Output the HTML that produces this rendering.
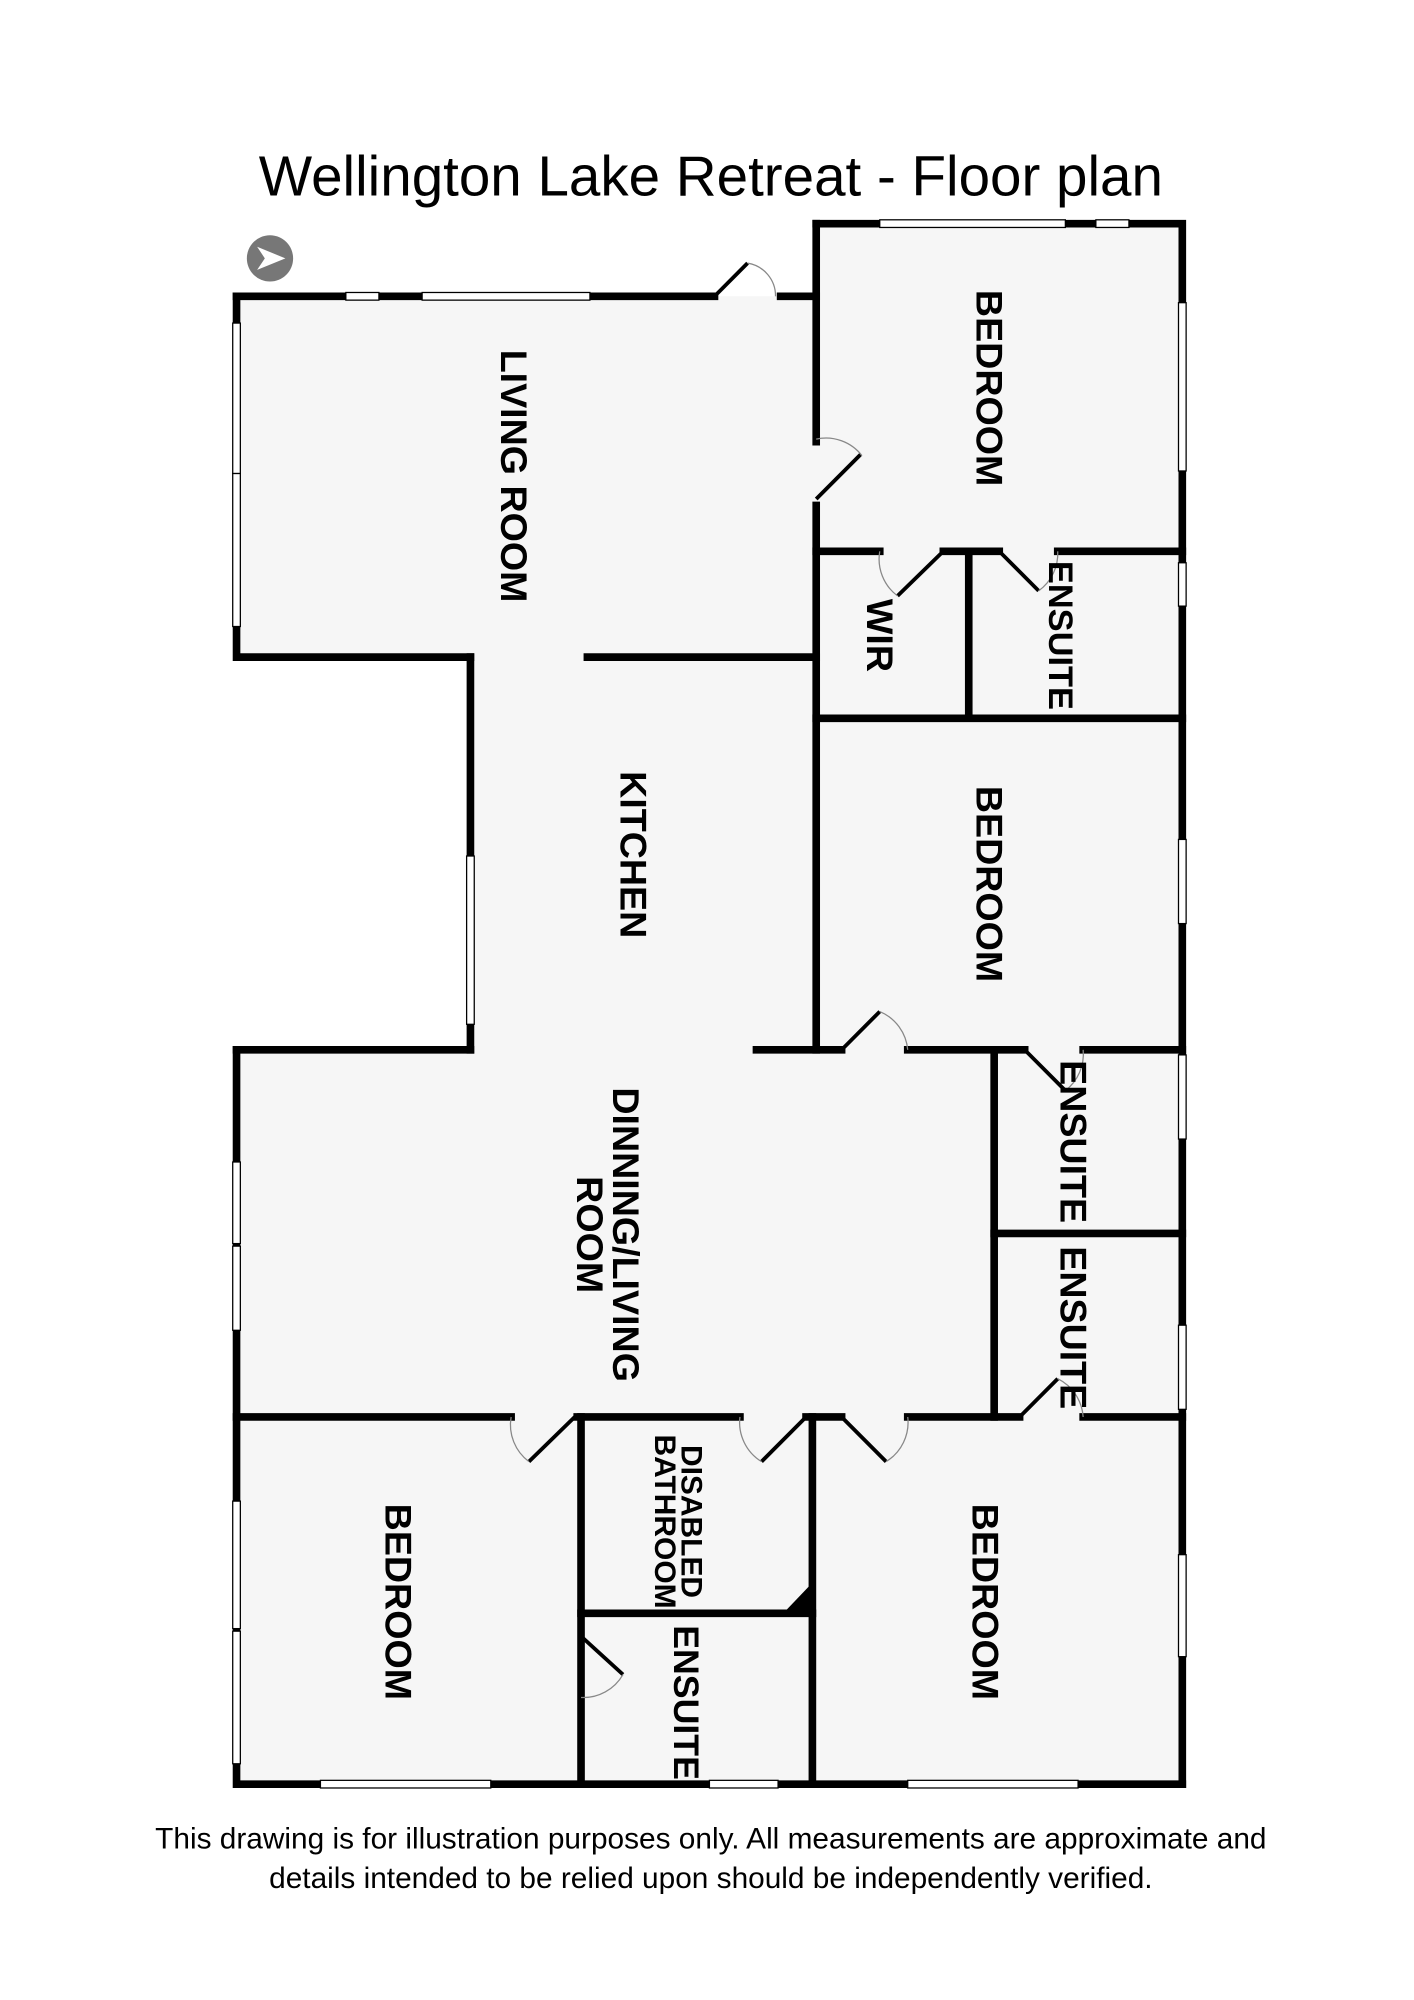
<!DOCTYPE html>
<html><head><meta charset="utf-8"><style>
html,body{margin:0;padding:0;background:#fff;}
svg{display:block;}
text{font-family:"Liberation Sans",sans-serif;}
.lbl{font-weight:bold;font-size:29.5px;fill:#000;}
</style></head><body>
<svg width="1414" height="2000" viewBox="0 0 1100 1556" xmlns="http://www.w3.org/2000/svg">
<rect width="1100" height="1556" fill="#fff"/>
<text x="553" y="152" font-size="44" text-anchor="middle">Wellington Lake Retreat - Floor plan</text>
<circle cx="210" cy="201" r="18" fill="#777"/>
<path d="M200 192 L222 201 L200 210 L206 201 Z" fill="#fff"/>
<g transform="matrix(0.989 0 0 0.9919 2 1.4)">
<path d="M184 231 L640 231 L640 174 L928 174 L928 1398 L184 1398 L184 822 L368 822 L368 514 L184 514 Z" fill="#f6f6f6"/>
<g stroke="#000" stroke-width="6" fill="none" stroke-linecap="square">
<path d="M184 231 L560 231 M612 231 L640 231"/>
<path d="M184 231 L184 514 L368 514"/>
<path d="M460 514 L640 514"/>
<path d="M640 174 L928 174 L928 1398"/>
<path d="M640 174 L640 345 M640 395 L640 822"/>
<path d="M640 431 L690 431 M740 431 L784 431 M830 431 L928 431"/>
<path d="M760 431 L760 560"/>
<path d="M640 562 L928 562"/>
<path d="M368 514 L368 822"/>
<path d="M184 822 L368 822 M593 822 L660 822 M712 822 L804 822 M850 822 L928 822"/>
<path d="M780 822 L780 1110"/>
<path d="M780 966 L928 966"/>
<path d="M184 822 L184 1398 L928 1398"/>
<path d="M184 1110 L400 1110 M452 1110 L580 1110 M632 1110 L660 1110 M712 1110 L800 1110 M850 1110 L928 1110"/>
<path d="M455 1110 L455 1398"/>
<path d="M637 1110 L637 1398"/>
<path d="M455 1264 L637 1264"/>
</g>
<polygon points="614,1264 637,1264 637,1240" fill="#000"/>
<g fill="#fff" stroke="#000" stroke-width="1">
<rect x="270" y="228" width="26" height="6"/>
<rect x="330" y="228" width="132" height="6"/>
<rect x="181" y="252" width="6" height="118"/>
<rect x="181" y="370" width="6" height="120"/>
<rect x="690" y="171" width="146" height="6"/>
<rect x="860" y="171" width="26" height="6"/>
<rect x="925" y="236" width="6" height="132"/>
<rect x="925" y="440" width="6" height="34"/>
<rect x="925" y="657" width="6" height="66"/>
<rect x="365" y="670" width="6" height="132"/>
<rect x="925" y="826" width="6" height="66"/>
<rect x="181" y="910" width="6" height="64"/>
<rect x="181" y="976" width="6" height="66"/>
<rect x="925" y="1038" width="6" height="66"/>
<rect x="181" y="1176" width="6" height="100"/>
<rect x="181" y="1278" width="6" height="104"/>
<rect x="925" y="1218" width="6" height="80"/>
<rect x="250" y="1395" width="134" height="6"/>
<rect x="556" y="1395" width="54" height="6"/>
<rect x="712" y="1395" width="134" height="6"/>
</g>
<g stroke="#000" stroke-width="3" fill="none">
<path d="M560 231 L586 205"/><path d="M640 390 L675 355"/>
<path d="M704 466 L740 431"/><path d="M784 431 L815 462"/>
<path d="M660 822 L690 792"/><path d="M804 822 L836 854"/>
<path d="M800 1110 L830 1080"/><path d="M414 1145 L450 1110"/>
<path d="M632 1110 L597 1145"/>
<path d="M660 1110 L695 1145"/><path d="M455 1282 L488 1312"/>
</g>
<g stroke="#888" stroke-width="1" fill="none">
<path d="M586 205 A26 26 0 0 1 608 231"/>
<path d="M640 343 A36 36 0 0 1 676 356"/>
<path d="M690 431 A36 36 0 0 0 704 466"/>
<path d="M830 431 A36 36 0 0 1 815 462"/>
<path d="M690 792 A36 36 0 0 1 712 822"/>
<path d="M836 854 A36 36 0 0 0 850 822"/>
<path d="M830 1080 A36 36 0 0 1 850 1110"/>
<path d="M400 1110 A36 36 0 0 0 414 1145"/>
<path d="M580 1110 A36 36 0 0 0 597 1145"/>
<path d="M712 1110 A36 36 0 0 1 695 1145"/>
<path d="M488 1312 A36 36 0 0 1 455 1330"/>
</g>
<g>
<text class="lbl" transform="translate(392,372) rotate(90)" text-anchor="middle">LIVING ROOM</text>
<text class="lbl" transform="translate(766,303) rotate(90)" text-anchor="middle">BEDROOM</text>
<text class="lbl" transform="translate(680,497) rotate(90)" text-anchor="middle">WIR</text>
<text class="lbl" transform="translate(823,497) rotate(90)" text-anchor="middle" style="font-size:27px">ENSUITE</text>
<text class="lbl" transform="translate(486,669) rotate(90)" text-anchor="middle">KITCHEN</text>
<text class="lbl" transform="translate(766,692) rotate(90)" text-anchor="middle">BEDROOM</text>
<text class="lbl" transform="translate(832,894) rotate(90)" text-anchor="middle">ENSUITE</text>
<text class="lbl" transform="translate(832,1040) rotate(90)" text-anchor="middle">ENSUITE</text>
<text class="lbl" transform="translate(480,967) rotate(90)" text-anchor="middle">DINNING/LIVING</text>
<text class="lbl" transform="translate(452,967) rotate(90)" text-anchor="middle">ROOM</text>
<text class="lbl" transform="translate(301,1255) rotate(90)" text-anchor="middle">BEDROOM</text>
<text class="lbl" transform="translate(534,1192) rotate(90)" text-anchor="middle" style="font-size:23.5px">DISABLED</text>
<text class="lbl" transform="translate(513,1192) rotate(90)" text-anchor="middle" style="font-size:23.5px">BATHROOM</text>
<text class="lbl" transform="translate(528,1334) rotate(90)" text-anchor="middle" style="font-size:28px">ENSUITE</text>
<text class="lbl" transform="translate(763,1255) rotate(90)" text-anchor="middle">BEDROOM</text>
</g>
</g>
<text x="553" y="1438" font-size="23.2" text-anchor="middle">This drawing is for illustration purposes only. All measurements are approximate and</text>
<text x="553" y="1469" font-size="23.2" text-anchor="middle">details intended to be relied upon should be independently verified.</text>
</svg>
</body></html>
